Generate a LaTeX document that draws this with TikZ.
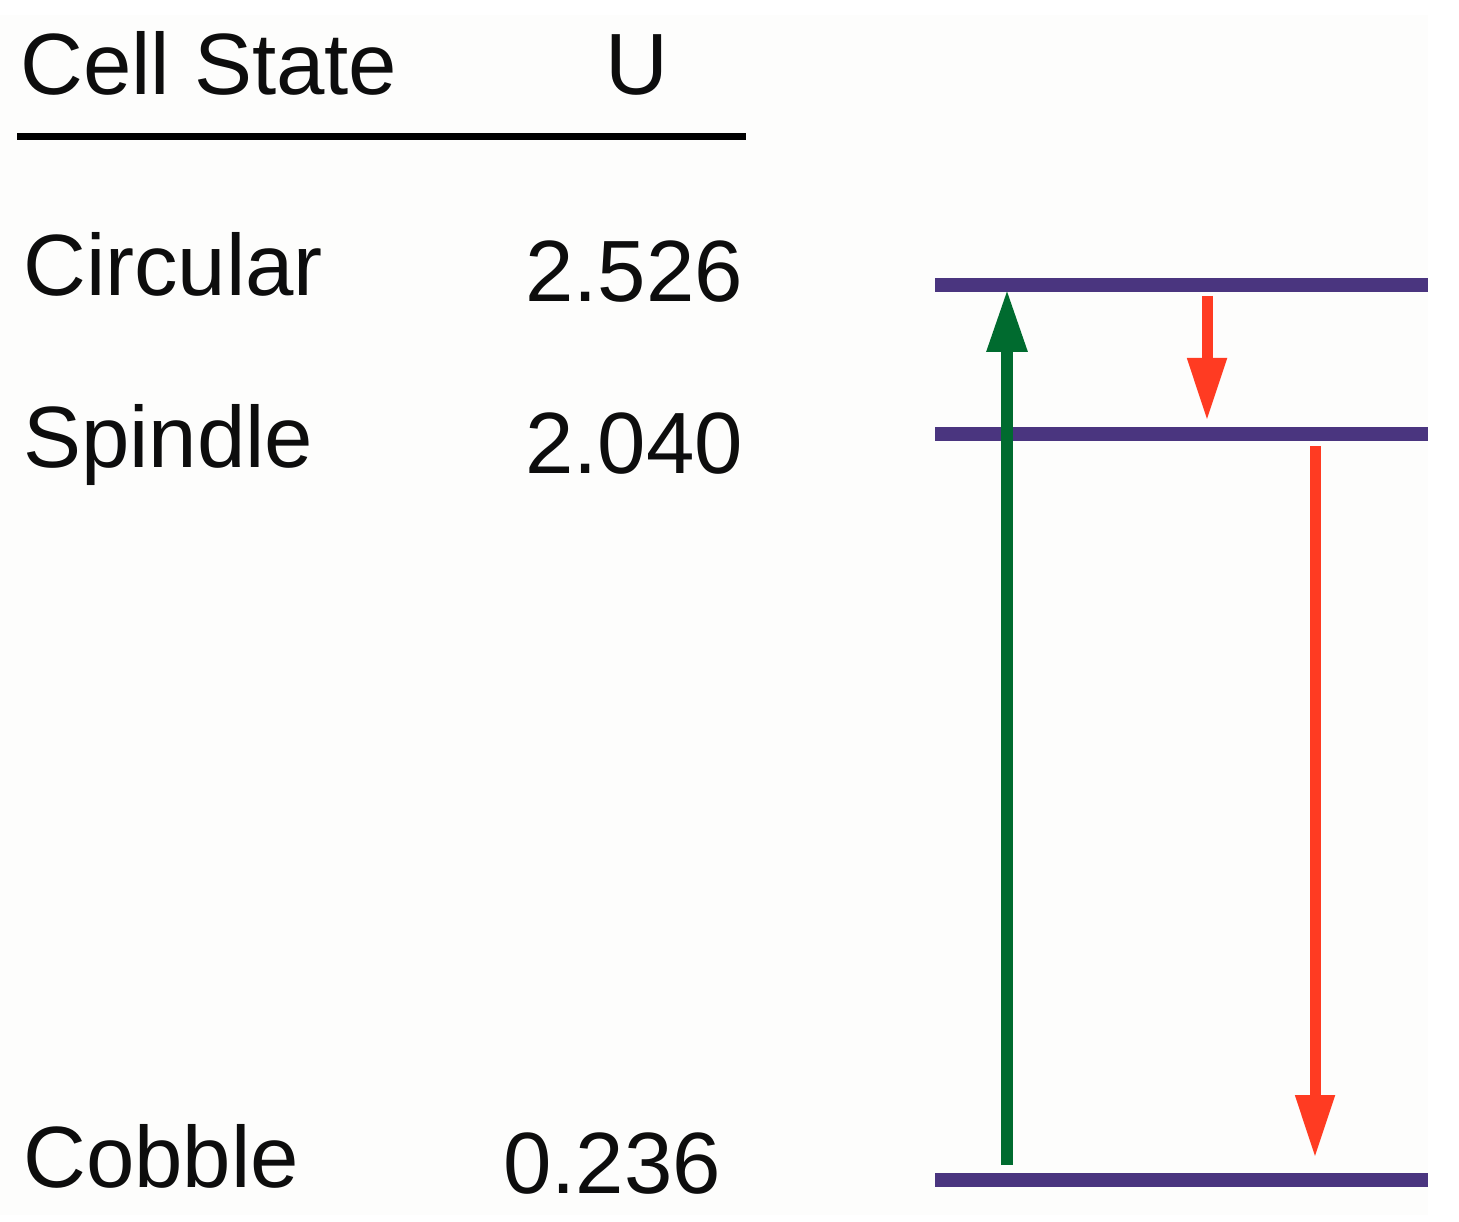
\documentclass[tikz,border=0pt]{standalone}
\usepackage{fontspec}
\setmainfont{Liberation Sans}
\usetikzlibrary{arrows.meta}
\definecolor{bgc}{HTML}{FDFDFC}
\definecolor{levelc}{HTML}{4A357F}
\definecolor{upc}{HTML}{006B2F}
\definecolor{downc}{HTML}{FF3B22}
\tikzset{
  txt/.style={inner sep=0pt, font=\fontsize{87}{100}\selectfont, text=black!95},
  level/.style={draw=levelc, line width=14pt},
  uparrow/.style={draw=upc, line width=12pt, -{Triangle[length=63pt,width=38pt]}},
  downarrow/.style={draw=downc, line width=11pt, -{Triangle[length=63pt,width=37pt]}},
}
\begin{document}
\begin{tikzpicture}[x=1pt,y=-1pt]
\useasboundingbox (0,0) rectangle (1459,1222);
\fill[bgc] (0,15) rectangle (1428,1215);
% header
\node[txt, anchor=base west] (hstate) at (20,95) {Cell State};
\node[txt, anchor=base] (hu) at (637,95) {U};
\coordinate (rl) at (17,137);
\coordinate (rr) at (746,137);
\draw[line width=7pt] (rl) -- (rr);
% rows
\node[txt, anchor=base west] (circ) at (23,296) {Circular};
\node[txt, anchor=base east] (circv) at (743,302) {2.526};
\node[txt, anchor=base west] (spin) at (23,467) {Spindle};
\node[txt, anchor=base east] (spinv) at (743,473) {2.040};
\node[txt, anchor=base west] (cob) at (23,1187) {Cobble};
\node[txt, anchor=base east] (cobv) at (721,1193) {0.236};
% levels
\coordinate (l1a) at (935,285); \coordinate (l1b) at (1428,285);
\coordinate (l2a) at (935,434); \coordinate (l2b) at (1428,434);
\coordinate (l3a) at (935,1180); \coordinate (l3b) at (1428,1180);
\draw[level] (l1a) -- (l1b);
\draw[level] (l2a) -- (l2b);
\draw[level] (l3a) -- (l3b);
% arrows
\coordinate (gs) at (1007,1165); \coordinate (ge) at (1007,289);
\coordinate (r1s) at (1207,296); \coordinate (r1e) at (1207,421);
\coordinate (r2s) at (1315,446); \coordinate (r2e) at (1315,1158);
\draw[uparrow] (gs) -- (ge);
\draw[downarrow] (r1s) -- (r1e);
\draw[downarrow] (r2s) -- (r2e);
\end{tikzpicture}
\end{document}
